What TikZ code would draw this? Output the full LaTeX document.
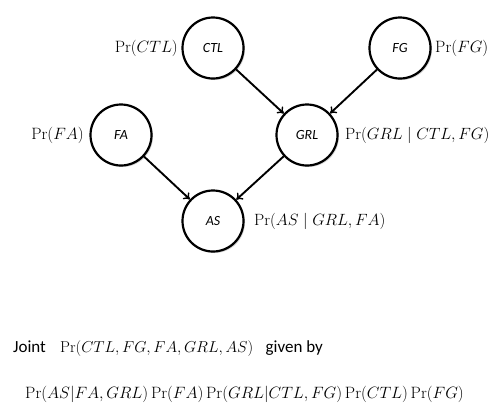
\documentclass[tikz,border=0pt]{standalone}
\usepackage{fontspec}
\usepackage{graphicx}
\newfontfamily\carl{Carlito}
\usetikzlibrary{shadows,arrows.meta}
\newcommand{\mlab}[2]{\scalebox{#1}{\fontsize{17.28}{20}\selectfont$#2$}}
\begin{document}
\begin{tikzpicture}[x=1pt,y=-1pt,
  bn/.style={circle,draw,line width=2.2pt,minimum size=61pt,inner sep=0pt,fill=white,
    drop shadow={opacity=0.35,shadow xshift=1.5pt,shadow yshift=-1.5pt},
    font=\carl\fontsize{14}{16}\selectfont\itshape},
  edge/.style={-{To[length=6pt,width=9pt,line width=1.4pt]},line width=1.9pt},
  lab/.style={inner sep=0pt},
  txt/.style={inner sep=0pt,font=\carl\fontsize{17}{20}\selectfont}]
\useasboundingbox (0,0) rectangle (497,413);
\node[bn] (CTL) at (213,48) {CTL};
\node[bn] (FG) at (400,48) {FG};
\node[bn] (FA) at (121,135) {FA};
\node[bn] (GRL) at (307,135) {GRL};
\node[bn] (AS) at (213,221) {AS};
\draw[edge] (CTL) -- (GRL);
\draw[edge] (FG) -- (GRL);
\draw[edge] (FA) -- (AS);
\draw[edge] (GRL) -- (AS);
\node[lab,anchor=east] (lctl) at (178,48) {\mlab{0.95}{\mathrm{Pr}(CTL)}};
\node[lab,anchor=west] (lfg) at (435,48) {\mlab{0.95}{\mathrm{Pr}(FG)}};
\node[lab,anchor=east] (lfa) at (84,135) {\mlab{0.95}{\mathrm{Pr}(FA)}};
\node[lab,anchor=west] (lgrl) at (345,135) {\mlab{0.943}{\mathrm{Pr}(GRL\mid CTL,FG)}};
\node[lab,anchor=west] (las) at (254,221) {\mlab{0.943}{\mathrm{Pr}(AS\mid GRL,FA)}};
\node[txt,anchor=base west] (joint) at (13,352) {Joint};
\node[lab,anchor=base west] (jpr) at (60,352) {\mlab{0.914}{\mathrm{Pr}(CTL,FG,FA,GRL,AS)}};
\node[txt,anchor=base west] (given) at ([xshift=12pt]jpr.base east) {given by};
\node[lab,anchor=base west] (prod) at (25,398) {\mlab{0.95}{\mathrm{Pr}(AS|FA,GRL)\,\mathrm{Pr}(FA)\,\mathrm{Pr}(GRL|CTL,FG)\,\mathrm{Pr}(CTL)\,\mathrm{Pr}(FG)}};
\end{tikzpicture}
\end{document}
